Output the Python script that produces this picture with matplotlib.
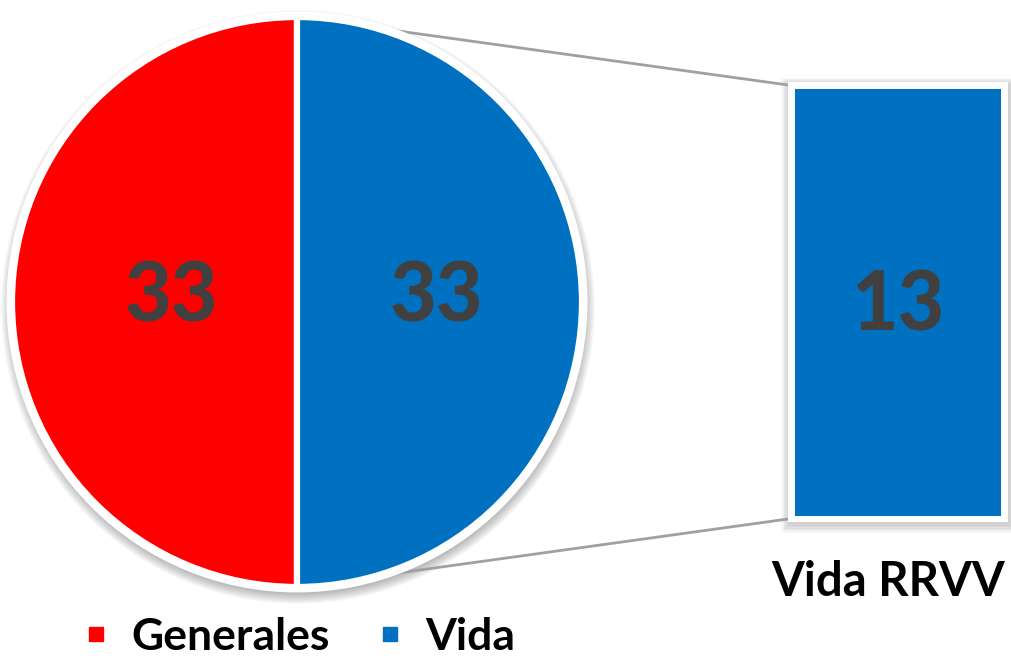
import matplotlib
matplotlib.use("Agg")
import matplotlib.pyplot as plt
from matplotlib.patches import Circle, Rectangle
from matplotlib.lines import Line2D
import numpy as np

# Data
pie_categories = ["Generales", "Vida"]
pie_values = [33, 33]
pie_colors = ["#FF0000", "#0070C0"]
bar_category = ["Vida RRVV"]
bar_values = [13]

W, H = 1012, 662
fig = plt.figure(figsize=(W / 100, H / 100), dpi=100)
fig.patch.set_facecolor("white")

ax = fig.add_axes([0, 0, 1, 1])
ax.set_xlim(0, W)
ax.set_ylim(H, 0)
ax.set_aspect("equal")
ax.axis("off")

cx, cy, r = 297, 302, 285
font = "Lato"
txt_color = "#404040"

# soft shadow under the pie
for i in range(10):
    ax.add_patch(Circle((cx + 1, cy + 5), r + 1 + i * 1.2, facecolor="black",
                        alpha=0.03, edgecolor="none", zorder=1))

# connector lines (behind pie)
bx0, bx1, by0, by1 = 788, 1008, 82, 522
ax.add_line(Line2D([cx, bx0], [cy - r, by0 + 3], color="#A0A0A0", lw=2, zorder=1.5))
ax.add_line(Line2D([cx, bx0], [cy + r, by1 - 3], color="#A0A0A0", lw=2, zorder=1.5))

wedges, texts = ax.pie(pie_values, labels=[str(v) for v in pie_values],
                       colors=pie_colors, startangle=90, counterclock=True,
                       center=(cx, cy), radius=r, labeldistance=0.46,
                       wedgeprops=dict(edgecolor="white", linewidth=4.5),
                       textprops=dict(fontsize=58, fontweight="black",
                                      color=txt_color, family=font),
                       frame=True)
for w in wedges:
    w.set_zorder(2)
label_dist = [0.44, 0.49]
for t, d, w in zip(texts, label_dist, wedges):
    ang = np.deg2rad((w.theta1 + w.theta2) / 2)
    t.set_position((cx + d * r * np.cos(ang), cy - 4 + d * r * np.sin(ang)))
    t.set_ha("center")
    t.set_va("center")
    t.set_zorder(3)
ax.set_xlim(0, W)
ax.set_ylim(H, 0)
ax.axis("off")
ax.add_patch(Circle((cx, cy), r + 2, facecolor="none", edgecolor="white", lw=5, zorder=2.5))

# shadow under the bar
for i in range(6):
    pad = 1 + i * 1.3
    ax.add_patch(Rectangle((bx0 - pad + 1, by0 - pad + 3), (bx1 - bx0) + 2 * pad,
                           (by1 - by0) + 2 * pad, facecolor="black", alpha=0.03,
                           edgecolor="none", zorder=1))
ax.add_patch(Rectangle((bx0, by0), bx1 - bx0, by1 - by0, facecolor="white",
                       edgecolor="none", zorder=1.8))

# bar axes
ix0, ix1, iy0, iy1 = 795, 1001, 89, 516
ax2 = fig.add_axes([ix0 / W, 1 - iy1 / H, (ix1 - ix0) / W, (iy1 - iy0) / H])
ax2.set_xlim(-0.5, 0.5)
ax2.set_ylim(0, bar_values[0])
ax2.axis("off")
ax2.bar([0], bar_values, width=1.0, color="#0070C0", edgecolor="none")
ax2.text(0, bar_values[0] / 2 - 0.15, str(bar_values[0]), ha="center", va="center",
         fontsize=58, fontweight="black", color=txt_color, family=font)
ax2.text(-0.05, -2.0, bar_category[0], ha="center", va="center", fontsize=34,
         fontweight="bold", color="black", family=font, clip_on=False)

# legend
handles = [Line2D([], [], marker="s", linestyle="none", markersize=10,
                  markerfacecolor=c, markeredgecolor=c) for c in pie_colors]
leg = fig.legend(handles, pie_categories, loc="center", bbox_to_anchor=(300 / W, 1 - 637 / H),
                 ncol=2, frameon=False, handlelength=0.5, handletextpad=0.55,
                 columnspacing=1.1, prop=dict(family=font, weight="bold", size=32))

fig.savefig("out.png", dpi=100, facecolor="white")
